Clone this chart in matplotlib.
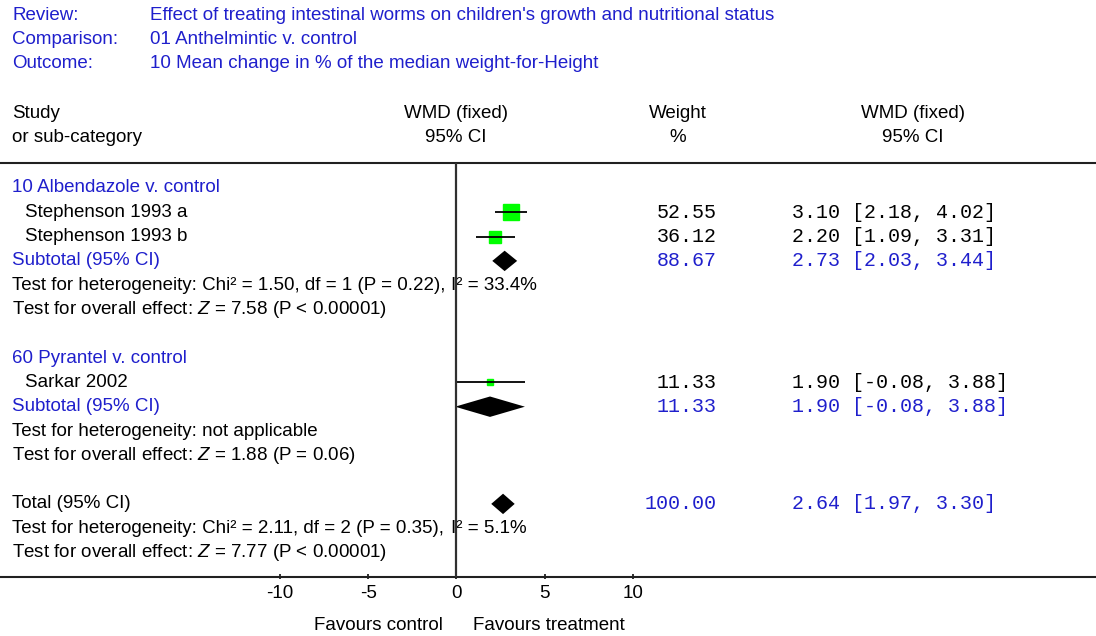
import numpy as np
import matplotlib.pyplot as plt
import matplotlib.transforms as mtransforms

plt.rcParams['font.family'] = ['Liberation Sans', 'DejaVu Sans']
plt.rcParams['mathtext.fontset'] = 'custom'
plt.rcParams['mathtext.rm'] = 'Liberation Sans'
plt.rcParams['mathtext.it'] = 'Liberation Sans:italic'

BLUE = '#1f1fcc'
GREEN = '#00ff00'

# header info
head_labels = ['Review:', 'Comparison:', 'Outcome:']
head_values = ["Effect of treating intestinal worms on children's growth and nutritional status",
               '01 Anthelmintic v. control',
               '10 Mean change in % of the median weight-for-Height']

# individual studies
study_names = ['Stephenson 1993 a', 'Stephenson 1993 b', 'Sarkar 2002']
study_rows = [1, 2, 8]
study_est = [3.10, 2.20, 1.90]
study_lo = [2.18, 1.09, -0.08]
study_hi = [4.02, 3.31, 3.88]
study_weight = [52.55, 36.12, 11.33]

# pooled estimates
pool_names = ['Subtotal (95% CI)', 'Subtotal (95% CI)', 'Total (95% CI)']
pool_rows = [3, 9, 13]
pool_est = [2.73, 1.90, 2.64]
pool_lo = [2.03, -0.08, 1.97]
pool_hi = [3.44, 3.88, 3.30]
pool_weight = [88.67, 11.33, 100.00]

group_names = ['10 Albendazole v. control', '60 Pyrantel v. control']
group_rows = [0, 7]

het_text = ['Test for heterogeneity: Chi\u00b2 = 1.50, df = 1 (P = 0.22), ',
            'Test for heterogeneity: not applicable',
            'Test for heterogeneity: Chi\u00b2 = 2.11, df = 2 (P = 0.35), ']
i2_text = ['I\u00b2 = 33.4%', None, 'I\u00b2 = 5.1%']
het_rows = [4, 10, 14]
eff_text = ['Test for overall effect: $Z$ = 7.58 (P < 0.00001)',
            'Test for overall effect: $Z$ = 1.88 (P = 0.06)',
            'Test for overall effect: $Z$ = 7.77 (P < 0.00001)']
eff_rows = [5, 11, 15]

xticks = [-10, -5, 0, 5, 10]

W, H = 1096, 636
x0_px, unit_px = 456.5, 17.63      # pixel of zero, pixels per unit
row0_px, row_px = 188, 24.3        # pixel of first row, row spacing

fig = plt.figure(figsize=(W / 100, H / 100), dpi=100)
ax = fig.add_axes([0, 0, 1, 1])
ax.axis('off')
ax.set_xlim(-x0_px / unit_px, (W - x0_px) / unit_px)
ax.set_ylim((H - row0_px) / row_px, -row0_px / row_px)

tr = mtransforms.blended_transform_factory(ax.transAxes, ax.transData)
def row(py):
    return (py - row0_px) / row_px

SANS = 13.5
MONO = 14.4
mono = dict(family='Liberation Mono', fontsize=MONO, va='center', transform=tr)
sans = dict(fontsize=SANS, va='center', transform=tr)

# top header
for i, (lab, val) in enumerate(zip(head_labels, head_values)):
    y = row(16 + 24 * i)
    ax.text(12 / W, y, lab, color=BLUE, **sans)
    ax.text(150 / W, y, val, color=BLUE, **sans)

ax.text(12 / W, row(114), 'Study', **sans)
ax.text(12 / W, row(138), 'or sub-category', **sans)
ax.text(456 / W, row(114), 'WMD (fixed)', ha='center', **sans)
ax.text(456 / W, row(138), '95% CI', ha='center', **sans)
ax.text(678 / W, row(114), 'Weight', ha='center', **sans)
ax.text(678 / W, row(138), '%', ha='center', **sans)
ax.text(913 / W, row(114), 'WMD (fixed)', ha='center', **sans)
ax.text(913 / W, row(138), '95% CI', ha='center', **sans)

# lines
ax.axhline(row(163), color='#202020', lw=1.5)
ax.axhline(16, color='#202020', lw=1.5)
ax.vlines(0, row(163), 16, color='#303030', lw=1.6, zorder=5)
ax.vlines(xticks, 16 - 0.11, 16 + 0.11, color='#202020', lw=1.3)
for t in xticks:
    ax.text(t, row(594), str(t), ha='center', va='center', fontsize=SANS)
ax.text(-0.8, row(625), 'Favours control', ha='right', va='center', fontsize=SANS)
ax.text(0.95, row(625), 'Favours treatment', ha='left', va='center', fontsize=SANS)

# left labels
for name, r in zip(group_names, group_rows):
    ax.text(12 / W, r, name, color=BLUE, **sans)
for name, r in zip(study_names, study_rows):
    ax.text(25 / W, r, name, **sans)
for k, (name, r) in enumerate(zip(pool_names, pool_rows)):
    ax.text(12 / W, r, name, color=BLUE if k < 2 else 'black', **sans)
for t, i2, r in zip(het_text, i2_text, het_rows):
    ax.text(12 / W, r, t, **sans)
    if i2:
        # the "I" falls under the zero line, as in the original
        ax.text((x0_px - 5.2) / W, r, i2, **sans)
for t, r in zip(eff_text, eff_rows):
    ax.text(12 / W, r, t, **sans)

# studies: squares + CI lines
for est, lo, hi, w, r in zip(study_est, study_lo, study_hi, study_weight, study_rows):
    ax.plot(est, r, marker='s', ms=1.49 * np.sqrt(w), color=GREEN, mec=GREEN, zorder=2)
    ax.hlines(r, lo, hi, color='black', lw=1.3, zorder=3)

# pooled diamonds
h = 0.42
for est, lo, hi, r in zip(pool_est, pool_lo, pool_hi, pool_rows):
    ax.fill([lo, est, hi, est], [r, r - h, r, r + h], color='black', lw=0)

# weight and CI columns
for est, lo, hi, w, r in zip(study_est, study_lo, study_hi, study_weight, study_rows):
    ax.text(717 / W, r, f'{w:.2f}', ha='right', **mono)
    ax.text(792 / W, r, f'{est:.2f} [{lo:.2f}, {hi:.2f}]', ha='left', **mono)
for est, lo, hi, w, r in zip(pool_est, pool_lo, pool_hi, pool_weight, pool_rows):
    ax.text(717 / W, r, f'{w:.2f}', ha='right', color=BLUE, **mono)
    ax.text(792 / W, r, f'{est:.2f} [{lo:.2f}, {hi:.2f}]', ha='left', color=BLUE, **mono)

fig.savefig('out.png', dpi=100, facecolor='white')
